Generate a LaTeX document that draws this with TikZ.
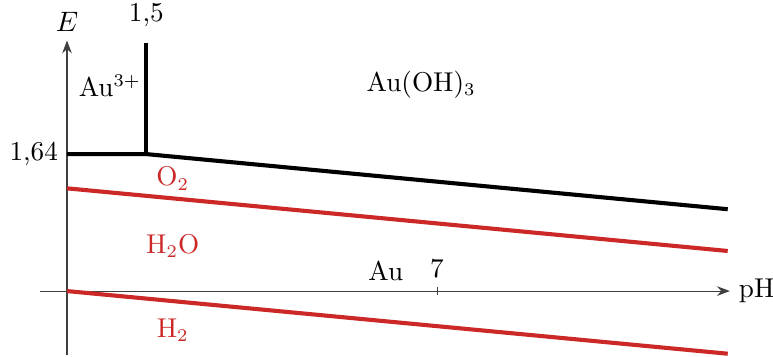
\documentclass[tikz,border=0pt]{standalone}
\usepackage{amsmath,amssymb}
\usepackage{tikz}
\usetikzlibrary{arrows.meta,positioning,calc}
\definecolor{redox}{RGB}{204,40,40}

\begin{document}
\begin{tikzpicture}[
  x=0.724cm, y=1.144cm,
  every node/.style={font=\fontsize{10.6pt}{13pt}\selectfont},
  axis/.style={-{Stealth[length=5pt]}, black!75, thin},
  border/.style={black, line width=1.6pt},
  water/.style={redox, line width=1.6pt},
  species/.style={},
  wspecies/.style={species, text=redox},
]
\useasboundingbox (-1.2675,-0.778) rectangle (13.356,3.485);
% --- axes ---
\coordinate (o) at (0,0);
\coordinate (xs) at (-0.51,0);
\coordinate (xe) at (12.54,0);
\coordinate (ys) at (0,-0.77);
\coordinate (ye) at (0,3.0);
\draw[axis] (xs) -- (xe) node[right, black] (ph) {pH};
\draw[axis] (ys) -- (ye) node[above, black] (e) {$E$};
\coordinate (t7) at (7,0);
\draw[black!75] ($(t7)+(0,-0.05)$) -- ($(t7)+(0,0.05)$);
\node[above] (l7) at (7,0.05) {7};

% --- gold boundaries ---
\coordinate (a0) at (0,1.64);
\coordinate (a1) at (1.5,1.64);
\coordinate (a2) at (1.5,2.97);
\coordinate (a3) at (12.5,0.98);
\draw[border] (a0) -- (a1) -- (a3);
\draw[border] (a1) -- (a2);
\node[left] (l164) at (a0) {1,64};
\node (l15) at (1.5,3.30) {1,5};

% --- water lines ---
\coordinate (w0) at (0,1.23);
\coordinate (w1) at (12.5,0.48);
\coordinate (h0) at (0,0);
\coordinate (h1) at (12.5,-0.75);
\draw[water] (w0) -- (w1);
\draw[water] (h0) -- (h1);

% --- labels ---
\node[species] (au3) at (0.81,2.455) {Au$^{3+}$};
\node[species] (auoh) at (6.7,2.47) {Au(OH)$_3$};
\node[species] (au) at (6.03,0.24) {Au};
\node[wspecies] (o2) at (2.0,1.35) {O$_2$};
\node[wspecies] (h2o) at (2.0,0.54) {H$_2$O};
\node[wspecies] (h2) at (2.0,-0.47) {H$_2$};
\end{tikzpicture}
\end{document}
